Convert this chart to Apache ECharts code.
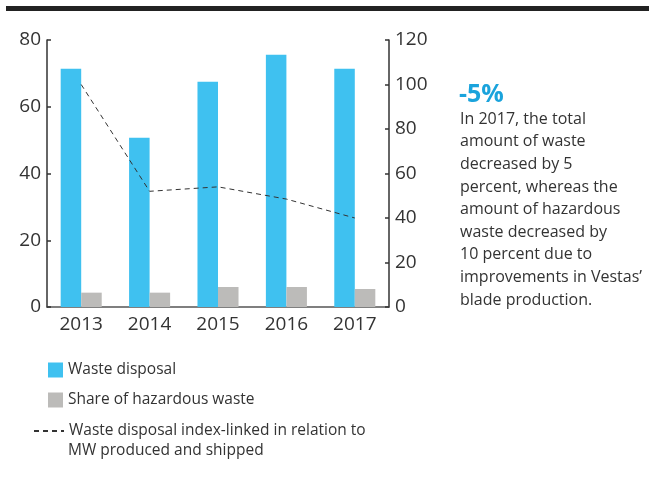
<!DOCTYPE html>
<html>
<head>
<meta charset="utf-8">
<script src="https://cdn.jsdelivr.net/npm/echarts@6/dist/echarts.min.js"></script>
<style>
html,body{margin:0;padding:0;background:#fff;}
#chart{width:649px;height:483px;}
</style>
</head>
<body>
<div id="chart"></div>
<script>
var categories = ['2013', '2014', '2015', '2016', '2017'];
var wasteDisposal = [71.4, 50.7, 67.5, 75.6, 71.4];
var hazardousShare = [4.3, 4.3, 6.0, 6.0, 5.4];
var indexLinked = [100, 52, 54, 48.5, 40];
var leftTicks = [0, 20, 40, 60, 80];
var rightTicks = [0, 20, 40, 60, 80, 100, 120];

var FONT = '"Open Sans", sans-serif';
var chart = echarts.init(document.getElementById('chart'), null, {renderer: 'canvas'});

chart.setOption({
  animation: false,
  backgroundColor: '#ffffff',
  textStyle: {fontFamily: FONT},
  grid: {left: 47, right: 260, top: 40, bottom: 176, containLabel: false},
  legend: [
    {
      orient: 'vertical', left: 48, top: 362, padding: 0,
      itemWidth: 15, itemHeight: 15, itemGap: 14, icon: 'rect',
      data: ['Waste disposal', 'Share of hazardous waste'],
      textStyle: {fontFamily: FONT, fontSize: 15.5, color: '#333'},
      selectedMode: false
    },
    {
      orient: 'vertical', left: 33, top: 423, padding: 0,
      itemWidth: 30, itemHeight: 15,
      itemStyle: {opacity: 0},
      data: ['Waste disposal index-linked in relation to MW produced and shipped'],
      formatter: function () { return 'Waste disposal index-linked in relation to'; },
      textStyle: {fontFamily: FONT, fontSize: 15.5, color: '#333'},
      selectedMode: false
    }
  ],
  xAxis: {
    type: 'category', data: categories,
    axisLine: {show: true, lineStyle: {color: '#555', width: 1.5}},
    axisTick: {show: false},
    axisLabel: {fontSize: 19, color: '#333', margin: 8, fontFamily: FONT}
  },
  yAxis: [
    {
      type: 'value', min: 0, max: 80, interval: 20, position: 'left',
      axisLine: {show: true, lineStyle: {color: '#333', width: 1.5}},
      axisTick: {show: true, inside: true, length: 4, lineStyle: {color: '#333', width: 1.5}},
      splitLine: {show: false},
      axisLabel: {fontSize: 19, color: '#333', margin: 6, fontFamily: FONT,
        formatter: function (v) { return leftTicks.indexOf(v) >= 0 ? String(v) : ''; }}
    },
    {
      type: 'value', min: 0, max: 120, interval: 20, position: 'right',
      axisLine: {show: true, lineStyle: {color: '#333', width: 1.5}},
      axisTick: {show: true, inside: true, length: 4, lineStyle: {color: '#333', width: 1.5}},
      splitLine: {show: false},
      axisLabel: {fontSize: 19, color: '#333', margin: 6, fontFamily: FONT,
        formatter: function (v) { return rightTicks.indexOf(v) >= 0 ? String(v) : ''; }}
    }
  ],
  series: [
    {
      name: 'Waste disposal', type: 'bar', yAxisIndex: 0, data: wasteDisposal,
      itemStyle: {color: '#3fc1f0'}, barGap: '0%', barCategoryGap: '40%'
    },
    {
      name: 'Share of hazardous waste', type: 'bar', yAxisIndex: 0, data: hazardousShare,
      itemStyle: {color: '#bcbbb9'}, barGap: '0%', barCategoryGap: '40%'
    },
    {
      name: 'Waste disposal index-linked in relation to MW produced and shipped',
      type: 'line', yAxisIndex: 1, data: indexLinked,
      symbol: 'none', z: 5,
      lineStyle: {color: '#333', width: 1, type: [5, 4]},
      itemStyle: {color: '#333'}
    }
  ],
  graphic: [
    {type: 'rect', left: 6, top: 6, shape: {width: 643, height: 5}, style: {fill: '#222'}},
    {type: 'text', left: 68, top: 443,
      style: {text: 'MW produced and shipped', fontFamily: FONT, fontSize: 15.5, fill: '#333'}},
    {type: 'text', left: 459, top: 82,
      style: {text: '-5%', fontFamily: FONT, fontSize: 25, fontWeight: 'bold', fill: '#1aa3dc'}},
    {type: 'text', left: 460, top: 108,
      style: {
        text: 'In 2017, the total\namount of waste\ndecreased by 5\npercent, whereas the\namount of hazardous\nwaste decreased by\n10 percent due to\nimprovements in Vestas\u2019\nblade production.',
        fontFamily: FONT, fontSize: 16, lineHeight: 22.6, fill: '#333'
      }}
  ]
});
</script>
</body>
</html>
